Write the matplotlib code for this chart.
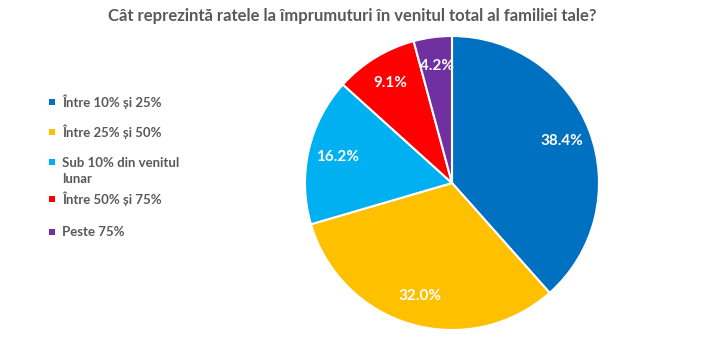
import matplotlib.pyplot as plt
from matplotlib.patches import Rectangle

categories = ["Între 10% și 25%", "Între 25% și 50%", "Sub 10% din venitul\nlunar",
              "Între 50% și 75%", "Peste 75%"]
values = [38.4, 32.0, 16.2, 9.1, 4.2]
colors = ["#0070C0", "#FFC000", "#00B0F0", "#FF0000", "#7030A0"]

FONT = ["Lato", "DejaVu Sans"]
GRAY = "#595959"

W, H = 704, 344
fig = plt.figure(figsize=(W / 100, H / 100), dpi=100)

# pie axes: centre (452, 183), radius 147 px
cx, cy, r = 452, 183, 147
ax = fig.add_axes([(cx - r) / W, 1 - (cy + r) / H, 2 * r / W, 2 * r / H])
wedges, texts, autotexts = ax.pie(
    values, colors=colors, startangle=90, counterclock=False,
    autopct="%.1f%%", pctdistance=0.8, radius=1.0,
    wedgeprops=dict(edgecolor="white", linewidth=1.5),
    textprops=dict(color="white", fontsize=11, fontweight="bold", family=FONT),
)
ax.set_xlim(-1, 1)
ax.set_ylim(-1, 1)
ax.set_aspect("equal")
ax.axis("off")

fig.text(0.5, 1 - 16 / H, "Cât reprezintă ratele la împrumuturi în venitul total al familiei tale?",
         ha="center", va="center", fontsize=12, fontweight="bold", color=GRAY, family=FONT)

# legend on the left
legend_y = [102, 132, 171, 199, 232]
for cat, col, y in zip(categories, colors, legend_y):
    nlines = cat.count("\n") + 1
    top_line_y = y - (nlines - 1) * 9
    fig.patches.append(Rectangle((49 / W, 1 - (top_line_y + 3) / H), 6 / W, 6 / H,
                                 transform=fig.transFigure, facecolor=col, edgecolor="none"))
    fig.text(62 / W, 1 - y / H, cat, ha="left", va="center", fontsize=9.5,
             fontweight="bold", color=GRAY, family=FONT, linespacing=1.45)

fig.savefig("out.png", dpi=100, facecolor="white")
